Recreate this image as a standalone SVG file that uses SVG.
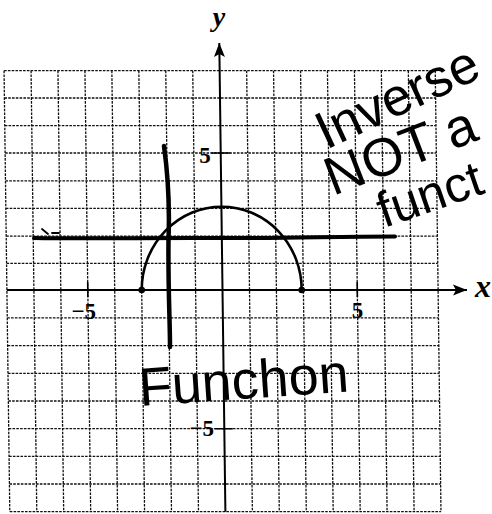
<svg xmlns="http://www.w3.org/2000/svg" width="492" height="514" viewBox="0 0 492 514">
<style>
.g{stroke:#111;stroke-width:1.3;stroke-dasharray:2.6 1.2;fill:none}
.ax{stroke:#000;stroke-width:2;fill:none}
.tk{stroke:#000;stroke-width:1.6}
.lbl{font-family:"Liberation Serif","Times New Roman",serif;font-size:23px;font-weight:bold;fill:#000}
.var{font-family:"Liberation Serif","Times New Roman",serif;font-style:italic;font-weight:bold;fill:#000}
.hw{font-family:"Liberation Sans",Arial,sans-serif;fill:#000}
.pen{stroke:#000;fill:none;stroke-linecap:round;stroke-linejoin:round}
</style>
<defs>
<marker id="ah" markerUnits="userSpaceOnUse" markerWidth="16" markerHeight="12" refX="14" refY="6" orient="auto"><path d="M0,0.5 L14,6 L0,11.5 L3,6 z" fill="#000"/></marker>
</defs>
<rect width="492" height="514" fill="#fff"/>
<g id="grid" transform="matrix(1 0 0.013 1 -3.77 0)">
<path class="g" d="M6.9 70.7V511.7M33.9 70.7V511.7M60.8 70.7V511.7M87.8 70.7V511.7M114.7 70.7V511.7M141.7 70.7V511.7M168.6 70.7V511.7M195.6 70.7V511.7M249.5 70.7V511.7M276.4 70.7V511.7M303.4 70.7V511.7M330.3 70.7V511.7M357.3 70.7V511.7M384.2 70.7V511.7M411.2 70.7V511.7M438.1 70.7V511.7"/>
<path class="g" d="M6.9 70.7H438.1M6.9 98H438.1M6.9 125.6H438.1M6.9 153H438.1M6.9 180.8H438.1M6.9 208.3H438.1M6.9 236.2H438.1M6.9 263.3H438.1M6.9 317.9H438.1M6.9 345.6H438.1M6.9 373.3H438.1M6.9 401H438.1M6.9 428.7H438.1M6.9 456.4H438.1M6.9 484H438.1M6.9 511.7H438.1"/>
<g id="axes">
<path class="ax" d="M222.5 511.7V43" marker-end="url(#ah)"/>
<path class="ax" d="M6.9 290H467" marker-end="url(#ah)"/>
<path class="tk" d="M87.8 282V297M357.3 282V297M213 153H232M213 428.7H231"/>
</g>
</g>
<g id="labels">
<text class="var" font-size="28" x="219" y="26" text-anchor="middle">y</text>
<text class="var" font-size="32" x="483" y="297" text-anchor="middle">x</text>
<text class="lbl" x="205" y="163" text-anchor="middle">5</text>
<text class="lbl" x="96" y="319" text-anchor="end">−5</text>
<text class="lbl" x="357.5" y="318" text-anchor="middle">5</text>
<text class="lbl" x="214" y="436" text-anchor="end">−5</text>
</g>
<g id="semicircle">
<path class="pen" stroke-width="2.6" d="M141.7 290A80 83.3 0 0 1 301.7 290"/>
<circle cx="141.7" cy="290" r="3.3" fill="#000"/>
<circle cx="301.7" cy="290" r="3.3" fill="#000"/>
</g>
<g id="inverse-lines">
<path class="pen" stroke-width="4.5" d="M164 146C168 175 170 200 168.5 240C168 290 170 320 170 347"/>
<path class="pen" stroke-width="4" d="M34 238C100 239 150 237.5 220 238S330 236.5 395 236.5"/>
<path class="pen" stroke-width="1.8" d="M42 229L48 234M52 233L59 233"/>
</g>
<g id="handwriting">
<text class="hw" font-size="54" x="140" y="406" transform="rotate(-4 140 406)">Funchon</text>
<text class="hw" font-size="53" x="326" y="150" transform="rotate(-25 326 150)">Inverse</text>
<text class="hw" font-size="54" x="333" y="196" transform="rotate(-21 333 196)">NOT a</text>
<text class="hw" font-size="50" x="384" y="228" transform="rotate(-19 384 228)">funct</text>
</g>
</svg>
